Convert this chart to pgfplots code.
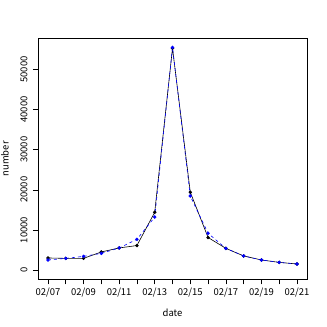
\documentclass[border=0pt]{standalone}
\usepackage{fontspec}
\setmainfont{Noto Sans CJK JP}
\usepackage{pgfplots}
\pgfplotsset{compat=1.18}

\begin{document}
\begin{tikzpicture}
\path[use as bounding box] (-38bp,-47.7bp) rectangle (289bp,279.3bp);
\begin{axis}[at={(0,0)},anchor=south west,scale only axis,
  width=269bp,height=241bp,font=\fontsize{9.5}{11}\selectfont,
  xmin=-0.56,xmax=14.56,ymin=-2320,ymax=57790,
  scaled y ticks=false,
  xtick={0,...,14},
  xticklabels={02/07,,02/09,,02/11,,02/13,,02/15,,02/17,,02/19,,02/21},
  ytick={0,10000,20000,30000,40000,50000},
  yticklabels={0,10000,20000,30000,40000,50000},
  tick align=outside,major tick length=5bp,
  xtick pos=bottom,ytick pos=left,
  axis line style={line width=0.6bp},
  tick style={line width=0.6bp,black},
  yticklabel style={rotate=90,anchor=south},
  yticklabel shift=2bp,
  xlabel={date},
  xlabel style={at={(axis description cs:0.5,0)},anchor=center,yshift=-33bp},
  clip=false,
]
\addplot[black,line width=0.6bp,mark=*,mark size=1.4bp] coordinates {
 (0,3000)(1,2900)(2,2900)(3,4500)(4,5500)(5,6100)(6,14400)(7,55300)
 (8,19400)(9,8100)(10,5400)(11,3500)(12,2500)(13,1900)(14,1500)};
\addplot[blue,line width=0.6bp,dash pattern=on 3bp off 3bp,mark=*,mark size=1.4bp,mark options={solid}] coordinates {
 (0,2500)(1,2900)(2,3400)(3,4150)(4,5500)(5,7650)(6,13200)(7,55500)
 (8,18450)(9,9150)(10,5400)(11,3500)(12,2500)(13,1900)(14,1500)};
\node[rotate=90,anchor=center] at ([xshift=-33bp]rel axis cs:0,0.5) {number};
\end{axis}
\end{tikzpicture}
\end{document}
